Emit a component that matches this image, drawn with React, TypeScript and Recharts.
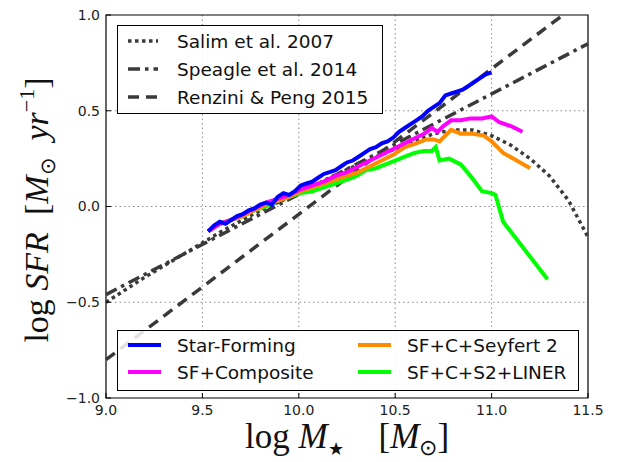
import React from 'react';
import { LineChart, Line, XAxis, YAxis, CartesianGrid, ReferenceArea } from 'recharts';

// x positions (log M*) and log SFR values
const blueX = [9.53, 9.56, 9.59, 9.62, 9.65, 9.68, 9.71, 9.74, 9.77, 9.8, 9.83, 9.86, 9.89, 9.92, 9.95, 9.98, 10.01, 10.04, 10.07, 10.1, 10.13, 10.16, 10.19, 10.22, 10.25, 10.28, 10.31, 10.34, 10.37, 10.4, 10.43, 10.46, 10.49, 10.52, 10.55, 10.58, 10.61, 10.64, 10.67, 10.7, 10.73, 10.76, 10.79, 10.82, 10.85, 10.88, 10.91, 10.94, 10.97, 11.0];
const blueY = [-0.13, -0.1, -0.08, -0.09, -0.07, -0.05, -0.04, -0.02, -0.01, 0.01, 0.02, 0.01, 0.05, 0.07, 0.06, 0.08, 0.11, 0.12, 0.13, 0.15, 0.17, 0.18, 0.19, 0.21, 0.23, 0.24, 0.26, 0.28, 0.3, 0.31, 0.33, 0.34, 0.36, 0.39, 0.41, 0.43, 0.45, 0.47, 0.5, 0.52, 0.54, 0.58, 0.59, 0.6, 0.61, 0.63, 0.65, 0.67, 0.69, 0.7];

const magentaX = [9.53, 9.59, 9.65, 9.71, 9.77, 9.83, 9.89, 9.95, 10.01, 10.07, 10.13, 10.19, 10.25, 10.31, 10.37, 10.43, 10.49, 10.55, 10.61, 10.65, 10.69, 10.72, 10.75, 10.79, 10.84, 10.89, 10.95, 11.0, 11.04, 11.1, 11.16];
const magentaY = [-0.13, -0.09, -0.07, -0.04, -0.01, 0.02, 0.04, 0.06, 0.09, 0.11, 0.13, 0.16, 0.18, 0.21, 0.24, 0.27, 0.3, 0.33, 0.36, 0.38, 0.41, 0.39, 0.42, 0.45, 0.45, 0.46, 0.46, 0.47, 0.44, 0.42, 0.39];

const orangeX = [9.53, 9.59, 9.65, 9.71, 9.77, 9.83, 9.89, 9.95, 10.01, 10.07, 10.13, 10.19, 10.25, 10.31, 10.37, 10.43, 10.49, 10.55, 10.61, 10.66, 10.7, 10.73, 10.76, 10.79, 10.84, 10.9, 10.96, 11.0, 11.06, 11.13, 11.2];
const orangeY = [-0.13, -0.09, -0.07, -0.05, -0.02, 0.01, 0.03, 0.05, 0.08, 0.1, 0.12, 0.14, 0.16, 0.18, 0.21, 0.24, 0.27, 0.31, 0.33, 0.35, 0.35, 0.34, 0.37, 0.4, 0.38, 0.38, 0.37, 0.34, 0.28, 0.24, 0.2];

const greenX = [9.53, 9.59, 9.65, 9.71, 9.77, 9.83, 9.89, 9.95, 10.01, 10.07, 10.13, 10.19, 10.25, 10.3, 10.35, 10.4, 10.45, 10.5, 10.55, 10.6, 10.65, 10.69, 10.71, 10.73, 10.78, 10.84, 10.89, 10.95, 11.0, 11.02, 11.06, 11.29];
const greenY = [-0.13, -0.09, -0.07, -0.05, -0.02, 0.0, 0.03, 0.05, 0.07, 0.08, 0.1, 0.12, 0.14, 0.16, 0.19, 0.2, 0.22, 0.24, 0.26, 0.28, 0.29, 0.29, 0.31, 0.24, 0.25, 0.22, 0.16, 0.08, 0.07, 0.06, -0.08, -0.38];

const salimX = [9.0, 9.2, 9.4, 9.6, 9.8, 10.0, 10.2, 10.4, 10.6, 10.7, 10.8, 10.9, 11.0, 11.1, 11.2, 11.3, 11.4, 11.5];
const salimY = [-0.5, -0.37, -0.25, -0.13, -0.02, 0.07, 0.17, 0.26, 0.34, 0.38, 0.4, 0.4, 0.37, 0.32, 0.25, 0.16, 0.03, -0.16];

const speagleX = [9.0, 11.5];
const speagleY = [-0.46, 0.85];

const renziniX = [9.0, 11.37];
const renziniY = [-0.8, 1.0];

const xTicks = [9.0, 9.5, 10.0, 10.5, 11.0, 11.5];
const yTicks = [-1.0, -0.5, 0.0, 0.5, 1.0];

const refLegend = ['Salim et al. 2007', 'Speagle et al. 2014', 'Renzini & Peng 2015'];
const sampleLegend = ['Star-Forming', 'SF+Composite', 'SF+C+Seyfert 2', 'SF+C+S2+LINER'];

const zip = (xs: number[], ys: number[]) => xs.map((x, i) => ({ x, y: ys[i] }));

const BLACK = '#3a3a3a';
const refDash = ['3.5 3.5', '12 5 3.5 5', '11 7'];
const sampleColors = ['#0000ff', '#ff00ff', '#ff8c00', '#00ff00'];

const tickFont = { fontFamily: 'DejaVu Sans', fontSize: 14, fill: '#222' };
const fmt = (v: number) => v.toFixed(1).replace('-', '\u2212');

const XLabel = (props: any) => {
  const vb = props.viewBox;
  const cx = vb.x + vb.width / 2;
  return (
    <text x={cx} y={448} textAnchor="middle" fontFamily="Liberation Serif" fontSize={35} fill="#111">
      <tspan>log </tspan>
      <tspan fontStyle="italic">M</tspan>
      <tspan fontSize={18} dy={7}>★</tspan>
      <tspan dy={-7}>{'\u2002\u2002['}</tspan>
      <tspan fontStyle="italic">M</tspan>
      <tspan fontSize={22} dy={7}>⊙</tspan>
      <tspan dy={-7}>]</tspan>
    </text>
  );
};

const YLabel = () => (
  <text x={0} y={0} transform="translate(48,210) rotate(-90)" textAnchor="middle" fontFamily="Liberation Serif" fontSize={34} fill="#111">
    <tspan>log </tspan>
    <tspan fontStyle="italic">SFR</tspan>
    <tspan>{'\u2002['}</tspan>
    <tspan fontStyle="italic">M</tspan>
    <tspan fontSize={21} dy={7}>⊙</tspan>
    <tspan dy={-7} fontStyle="italic">{'\u2002yr'}</tspan>
    <tspan fontSize={22} dy={-14}>{'\u22121'}</tspan>
    <tspan dy={14}>]</tspan>
  </text>
);

export default function App() {
  return (
    <div style={{ position: 'absolute', left: 0, top: 0, width: 618, height: 462, background: '#fff' }}>
      <LineChart width={618} height={462} margin={{ top: 15, right: 30, bottom: 0, left: 0 }}>
        <CartesianGrid stroke="#8a8a8a" strokeDasharray="1.5 3" horizontalValues={[-0.5, 0, 0.5]} verticalValues={[9.5, 10, 10.5, 11]} />
        <XAxis
          dataKey="x"
          type="number"
          domain={[9, 11.5]}
          ticks={xTicks}
          tickFormatter={fmt}
          tick={tickFont}
          tickLine={{ stroke: '#000' }}
          tickSize={-5}
          tickMargin={12}
          axisLine={false}
          height={64}
          label={<XLabel />}
        />
        <YAxis
          type="number"
          domain={[-1, 1]}
          ticks={yTicks}
          tickFormatter={fmt}
          tick={tickFont}
          tickLine={{ stroke: '#000' }}
          tickSize={-5}
          tickMargin={11}
          axisLine={false}
          width={106}
          label={<YLabel />}
        />
        <ReferenceArea x1={9} x2={11.5} y1={-1} y2={1} fill="none" stroke="#000" strokeWidth={1.2} />
        <Line data={zip(salimX, salimY)} dataKey="y" stroke={BLACK} strokeWidth={3.5} strokeDasharray={refDash[0]} dot={false} isAnimationActive={false} />
        <Line data={zip(speagleX, speagleY)} dataKey="y" stroke={BLACK} strokeWidth={3.5} strokeDasharray={refDash[1]} dot={false} isAnimationActive={false} />
        <Line data={zip(renziniX, renziniY)} dataKey="y" stroke={BLACK} strokeWidth={3.5} strokeDasharray={refDash[2]} dot={false} isAnimationActive={false} />
        <Line data={zip(greenX, greenY)} dataKey="y" stroke={sampleColors[3]} strokeWidth={4} dot={false} isAnimationActive={false} />
        <Line data={zip(orangeX, orangeY)} dataKey="y" stroke={sampleColors[2]} strokeWidth={4} dot={false} isAnimationActive={false} />
        <Line data={zip(magentaX, magentaY)} dataKey="y" stroke={sampleColors[1]} strokeWidth={4} dot={false} isAnimationActive={false} />
        <Line data={zip(blueX, blueY)} dataKey="y" stroke={sampleColors[0]} strokeWidth={4} dot={false} isAnimationActive={false} />
      </LineChart>

      {/* reference relations legend */}
      <div style={{ position: 'absolute', left: 117, top: 25, width: 264, height: 87, border: '1px solid #000', background: 'rgba(255,255,255,0.85)', fontFamily: 'DejaVu Sans', fontSize: 18.5, color: '#111' }}>
        {refLegend.map((name, i) => (
          <div key={name} style={{ position: 'absolute', left: 0, top: 2 + i * 28, height: 26, display: 'flex', alignItems: 'center', whiteSpace: 'nowrap' }}>
            <svg width={59} height={26}>
              <line x1={10} x2={40} y1={13} y2={13} stroke={BLACK} strokeWidth={3.5} strokeDasharray={refDash[i]} />
            </svg>
            <span>{name}</span>
          </div>
        ))}
      </div>

      {/* galaxy sample legend */}
      <div style={{ position: 'absolute', left: 117, top: 330, width: 460, height: 59, border: '1px solid #000', background: 'rgba(255,255,255,0.85)', fontFamily: 'DejaVu Sans', fontSize: 18.5, color: '#111' }}>
        {sampleLegend.map((name, i) => (
          <div key={name} style={{ position: 'absolute', left: i < 2 ? 0 : 230, top: 1 + (i % 2) * 27, height: 26, display: 'flex', alignItems: 'center', whiteSpace: 'nowrap' }}>
            <svg width={59} height={26}>
              <line x1={10} x2={43} y1={13} y2={13} stroke={sampleColors[i]} strokeWidth={4} />
            </svg>
            <span>{name}</span>
          </div>
        ))}
      </div>
    </div>
  );
}
